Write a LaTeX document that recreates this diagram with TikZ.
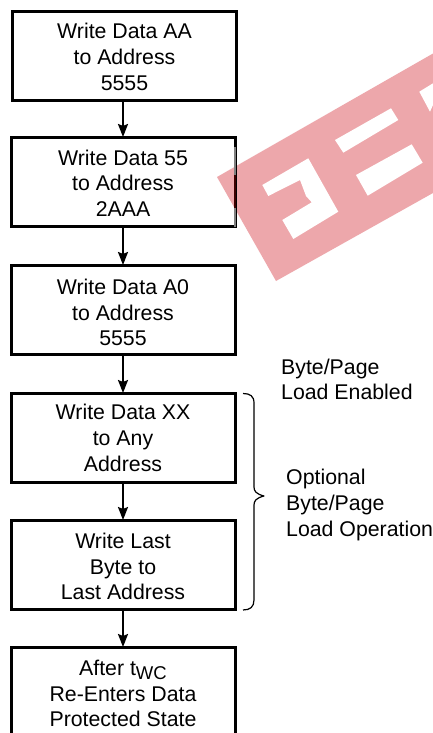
\documentclass[tikz,border=0pt]{standalone}
\usepackage{fontspec}
\setmainfont{Liberation Sans}
\usetikzlibrary{arrows.meta}
\definecolor{banner}{HTML}{EDA7AB}
\tikzset{
  flowbox/.style={draw=black,line width=3pt,minimum width=224pt,minimum height=89pt,align=center,inner sep=0pt,
    font=\fontsize{21.3}{25.7}\selectfont},
  flowarrow/.style={draw=black,line width=2pt,-{Stealth[length=13pt,width=10pt,inset=2pt]},shorten >=-1pt},
  sidelabel/.style={align=left,anchor=west,inner sep=0pt,font=\fontsize{21.3}{25.7}\selectfont},
  bracepath/.style={draw=black,line width=1.2pt,line join=round},
  cutout/.style={fill=white,draw=none}
}
\begin{document}
\begin{tikzpicture}[x=1pt,y=-1pt]
\useasboundingbox (0,0) rectangle (433,733);
\fill[white] (0,0) rectangle (433,733);
% banner
\fill[banner] (217,177) -- (433,53.5) -- (433,193) -- (276,281) -- cycle;
\fill[cutout] (262.3,185) -- (308.3,158.3) -- (338.3,211.7) -- (293.3,239) -- (282.3,220) -- (311.7,202.3) -- (306,196) -- (300,180) -- (268.3,196) -- cycle;
\fill[cutout] (335,140) -- (391,108.3) -- (398.3,120) -- (343.3,152.7) -- cycle;
\fill[cutout] (356,175) -- (411.7,144.3) -- (422.7,162.7) -- (367.7,195.7) -- cycle;
\fill[cutout] (419.3,91.7) -- (433,83.3) -- (433,105) -- (430,111.7) -- cycle;
% boxes
\node[flowbox] (b1) at (124.5,56) {\rule{0pt}{17.5pt}Write Data AA\\to Address\\5555};
\node[flowbox] (b2) at (123,182) {\rule{0pt}{17.5pt}Write Data 55\\to Address\\2AAA};
\node[flowbox] (b3) at (123,310) {\rule{0pt}{20.5pt}Write Data A0\\to Address\\5555};
\node[flowbox] (b4) at (123,438) {Write Data XX\\to Any\\Address};
\node[flowbox] (b5) at (123,565) {\rule{0pt}{18.5pt}Write Last\\Byte to\\Last Address};
\node[flowbox] (b6) at (123,692) {\rule{0pt}{18.5pt}After t{\fontsize{18.5}{18.5}\selectfont\raisebox{-4pt}{WC}}\\Re-Enters Data\\Protected State};
% overprint on box 2 edge
\draw[line width=2.5pt,draw=gray] (235,147) -- (235,175);
\draw[line width=2.5pt,draw=gray] (235,208) -- (235,226.5);
\draw[line width=2.5pt,draw=black!60!red!60!black] (235,175) -- (235,208);
% connectors
\draw[flowarrow] (b1.south -| 123,0) -- (b2.north -| 123,0);
\draw[flowarrow] (b2) ++(0,44.5) -- (b3.north);
\draw[flowarrow] (b3.south) -- (b4.north);
\draw[flowarrow] (b4.south) -- (b5.north);
\draw[flowarrow] (b5.south) -- (b6.north);
% labels
\node[sidelabel] (l1) at (281,379.5) {Byte/Page\\Load Enabled};
\node[sidelabel] (l2) at (286,505) {Optional\\Byte/Page\\Load Operation};
% brace
\draw[bracepath] (243,393.5) .. controls (250,393.5) and (254,396) .. (254,403) -- (254,487) .. controls (254,491) and (256,494) .. (264,496) .. controls (256,498) and (254,501) .. (254,505) -- (254,600) .. controls (254,607) and (250,610) .. (243,610);
\end{tikzpicture}
\end{document}
